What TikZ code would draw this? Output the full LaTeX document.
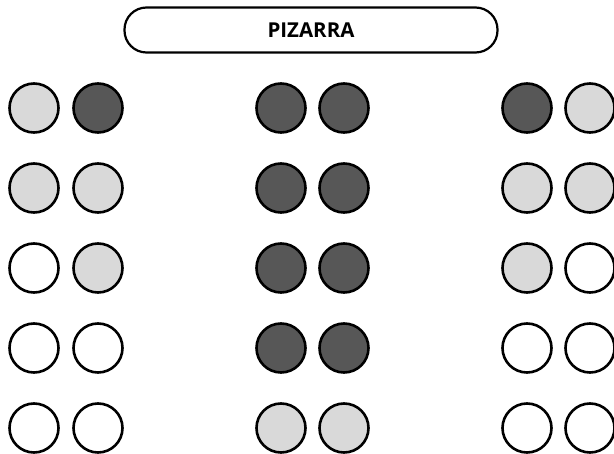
\documentclass[tikz,border=0pt]{standalone}
\usepackage{fontspec}
\setmainfont{Open Sans}
\definecolor{lightg}{HTML}{D9D9D9}
\definecolor{darkg}{HTML}{575757}
\begin{document}
\begin{tikzpicture}[x=1pt,y=-1pt,
  seat/.style={circle,draw=black,line width=2.6pt,minimum size=49pt,inner sep=0pt},
  sw/.style={seat,fill=white},
  sl/.style={seat,fill=lightg},
  sd/.style={seat,fill=darkg},
  board/.style={draw=black,line width=2.2pt,rounded corners=22pt,minimum width=373pt,minimum height=45pt,inner sep=0pt,font=\bfseries\fontsize{20.5}{24}\selectfont}]
\useasboundingbox (0,0) rectangle (614,454);
\node[board] (pizarra) at (311,30) {PIZARRA};
% row 1
\node[sl] (a1) at (34,108) {};
\node[sd] (b1) at (98,108) {};
\node[sd] (c1) at (281,108) {};
\node[sd] (d1) at (344,108) {};
\node[sd] (e1) at (527,108) {};
\node[sl] (f1) at (590,108) {};
% row 2
\node[sl] (a2) at (34,188) {};
\node[sl] (b2) at (98,188) {};
\node[sd] (c2) at (281,188) {};
\node[sd] (d2) at (344,188) {};
\node[sl] (e2) at (527,188) {};
\node[sl] (f2) at (590,188) {};
% row 3
\node[sw] (a3) at (34,268) {};
\node[sl] (b3) at (98,268) {};
\node[sd] (c3) at (281,268) {};
\node[sd] (d3) at (344,268) {};
\node[sl] (e3) at (527,268) {};
\node[sw] (f3) at (590,268) {};
% row 4
\node[sw] (a4) at (34,348) {};
\node[sw] (b4) at (98,348) {};
\node[sd] (c4) at (281,348) {};
\node[sd] (d4) at (344,348) {};
\node[sw] (e4) at (527,348) {};
\node[sw] (f4) at (590,348) {};
% row 5
\node[sw] (a5) at (34,428) {};
\node[sw] (b5) at (98,428) {};
\node[sl] (c5) at (281,428) {};
\node[sl] (d5) at (344,428) {};
\node[sw] (e5) at (527,428) {};
\node[sw] (f5) at (590,428) {};
\end{tikzpicture}
\end{document}
